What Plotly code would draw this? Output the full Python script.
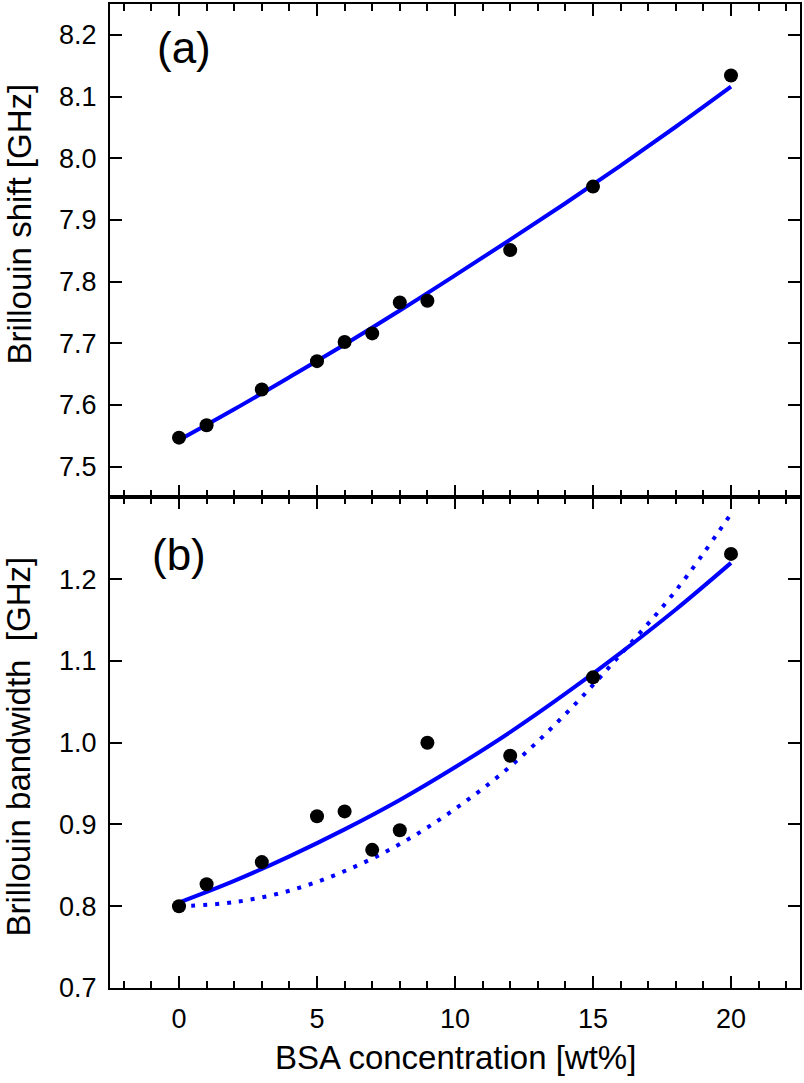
import plotly.graph_objects as go

# ---- data ----
conc = [0, 1, 3, 5, 6, 7, 8, 9, 12, 15, 20]
shift = [7.547, 7.567, 7.625, 7.671, 7.702, 7.716, 7.766, 7.769, 7.851, 7.954, 8.134]
bandwidth = [0.800, 0.827, 0.854, 0.910, 0.916, 0.869, 0.893, 1.000, 0.984, 1.080, 1.231]

fit_x = [0, 2, 4, 6, 8, 10, 12, 14, 16, 18, 20]
shift_fit = [7.543, 7.593, 7.645, 7.698, 7.753, 7.810, 7.868, 7.927, 7.988, 8.051, 8.116]
bw_fit = [0.8045, 0.831, 0.861, 0.894, 0.930, 0.970, 1.013, 1.060, 1.110, 1.163, 1.220]
bw_fit_dotted = [0.800, 0.805, 0.819, 0.843, 0.876, 0.919, 0.971, 1.035, 1.108, 1.186, 1.280]

x_ticks = [0, 5, 10, 15, 20]
shift_ticks = [7.5, 7.6, 7.7, 7.8, 7.9, 8.0, 8.1, 8.2]
bw_ticks = [0.7, 0.8, 0.9, 1.0, 1.1, 1.2]

BLUE = "rgb(0,0,255)"
FONT = "Liberation Sans, Arial, sans-serif"

fig = go.Figure()

# panel (a)
fig.add_trace(go.Scatter(x=fit_x, y=shift_fit, mode="lines", line=dict(color=BLUE, width=4, shape="spline"),
                         xaxis="x", yaxis="y", showlegend=False))
fig.add_trace(go.Scatter(x=conc, y=shift, mode="markers", marker=dict(color="black", size=14),
                         xaxis="x", yaxis="y", showlegend=False))
# panel (b)
fig.add_trace(go.Scatter(x=fit_x, y=bw_fit_dotted, mode="lines",
                         line=dict(color=BLUE, width=4, dash="4px,8px", shape="spline"),
                         xaxis="x2", yaxis="y2", showlegend=False))
fig.add_trace(go.Scatter(x=fit_x, y=bw_fit, mode="lines", line=dict(color=BLUE, width=4, shape="spline"),
                         xaxis="x2", yaxis="y2", showlegend=False))
fig.add_trace(go.Scatter(x=conc, y=bandwidth, mode="markers", marker=dict(color="black", size=14),
                         xaxis="x2", yaxis="y2", showlegend=False))

split = 0.4985
xcommon = dict(range=[-2.5, 22.5], tickvals=x_ticks, ticks="inside", ticklen=12, tickwidth=2,
               tickcolor="black", showline=True, linecolor="black", linewidth=2, mirror="ticks",
               showgrid=False, zeroline=False,
               minor=dict(ticks="inside", ticklen=7, tickwidth=2, tickcolor="black", dtick=1, tick0=0, showgrid=False),
               tickfont=dict(family=FONT, size=27, color="black"))
ycommon = dict(ticks="inside", ticklen=12, tickwidth=2, tickcolor="black", showline=True,
               linecolor="black", linewidth=2, mirror="ticks", showgrid=False, zeroline=False,
               tickformat=".1f", tickfont=dict(family=FONT, size=27, color="black"), ticklabelstandoff=6)

fig.update_layout(
    width=804, height=1083,
    margin=dict(l=110, r=4, t=2, b=95),
    paper_bgcolor="white", plot_bgcolor="white",
    xaxis=dict(domain=[0, 1], anchor="y", showticklabels=False, **xcommon),
    xaxis2=dict(domain=[0, 1], anchor="y2", matches="x", ticklabelstandoff=6, **xcommon),
    yaxis=dict(domain=[split, 1], anchor="x", range=[7.45, 8.25], tickvals=shift_ticks, **ycommon),
    yaxis2=dict(domain=[0, split], anchor="x2", range=[0.7, 1.3], tickvals=bw_ticks, **ycommon),
)

TITLE_FONT = dict(family=FONT, size=33, color="black")
LABEL_FONT = dict(family=FONT, size=44, color="black")
ann = dict(xref="paper", yref="paper", showarrow=False)
fig.add_annotation(text="Brillouin shift [GHz]", x=(19 - 110) / 690, y=0.776, textangle=-90,
                   xanchor="center", yanchor="middle", font=TITLE_FONT, **ann)
fig.add_annotation(text="Brillouin bandwidth  [GHz]", x=(19 - 110) / 690, y=0.2454, textangle=-90,
                   xanchor="center", yanchor="middle", font=TITLE_FONT, **ann)
fig.add_annotation(text="BSA concentration [wt%]", x=0.5, y=-0.071,
                   xanchor="center", yanchor="middle", font=TITLE_FONT, **ann)
fig.add_annotation(text="(a)", x=0.065, y=0.956, xanchor="left", yanchor="middle", font=LABEL_FONT, **ann)
fig.add_annotation(text="(b)", x=0.058, y=0.441, xanchor="left", yanchor="middle", font=LABEL_FONT, **ann)

fig.write_html("out.html")
